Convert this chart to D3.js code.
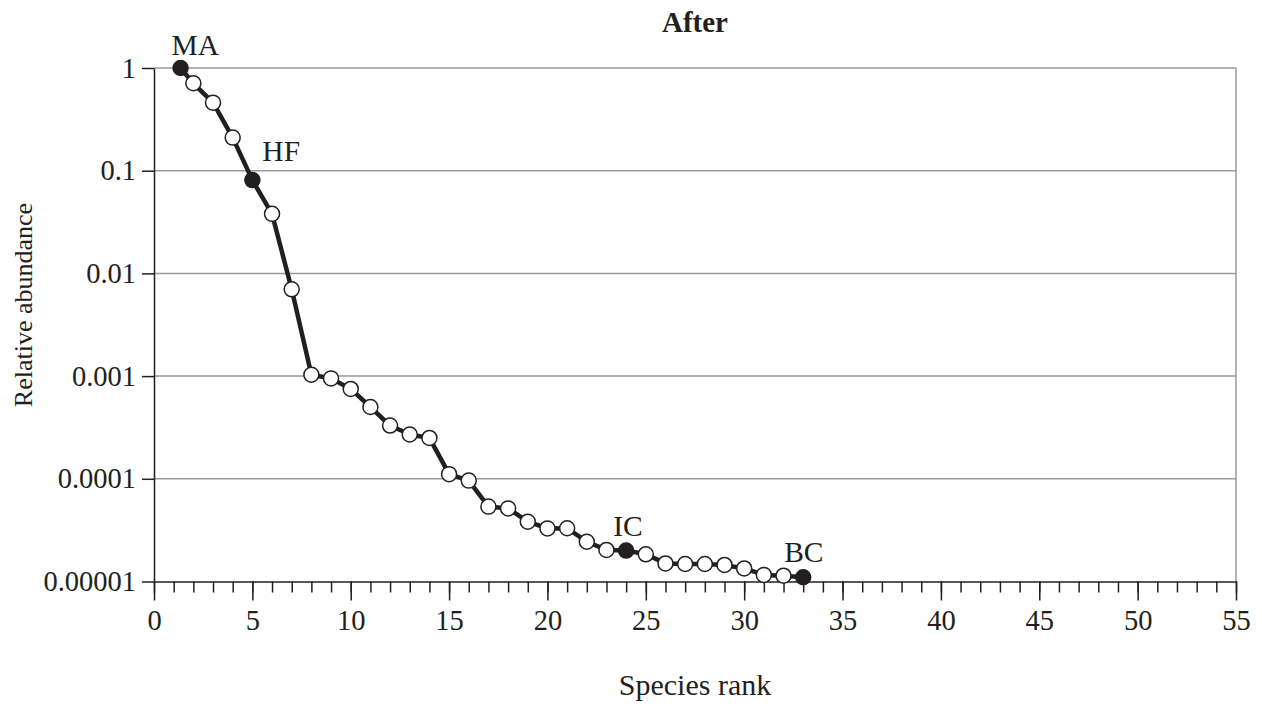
<!DOCTYPE html>
<html>
<head>
<meta charset="utf-8">
<script src="https://cdn.jsdelivr.net/npm/d3@7"></script>
<style>
    body { margin: 0; background: #fff; }
    svg text { font-family: "Liberation Serif", "Times New Roman", serif; fill: #231f20; }
</style>
</head>
<body>
<svg></svg>
<script>
const width = 1262;
const height = 704;

// data
const ranks = [1.35, 2, 3, 4, 5, 6, 7, 8, 9, 10, 11, 12, 13, 14, 15, 16, 17,
    18, 19, 20, 21, 22, 23, 24, 25, 26, 27, 28, 29, 30, 31, 32, 33];
const abundance = [1, 0.71, 0.46, 0.21, 0.081, 0.038, 0.007, 0.00103, 0.00095,
    0.00075, 0.0005, 0.00033, 0.00027, 0.00025, 0.000111, 0.000096, 0.0000536,
    0.0000515, 0.0000382, 0.0000329, 0.000033, 0.0000244, 0.0000203, 0.00002,
    0.0000184, 0.000015, 0.0000148, 0.0000148, 0.0000145, 0.0000134, 0.0000116,
    0.0000114, 0.000011];
// labelled species (index into the arrays above)
const labelNames = ["MA", "HF", "IC", "BC"];
const labelIndex = [0, 4, 23, 32];
const labelOffset = [[-9, -13], [10, -19], [-13, -15], [-19, -15]];

const yTicks = [1, 0.1, 0.01, 0.001, 0.0001, 0.00001];
const yTickLabels = ["1", "0.1", "0.01", "0.001", "0.0001", "0.00001"];
const xMajor = d3.range(0, 56, 5);
const xMinor = d3.range(0, 56, 1);

const margin = { left: 154, right: 26, top: 68, bottom: 122.5 };
const tickFont = 28.5;

let svg = d3.select("svg").attr("width", width).attr("height", height);

let x = d3.scaleLinear().domain([0, 55]).range([margin.left, width - margin.right]);
let y = d3.scaleLog().domain([0.00001, 1]).range([height - margin.bottom, margin.top]);

//сетка
svg.append("g")
    .selectAll("line")
    .data(yTicks.slice(0, -1))
    .join("line")
    .attr("x1", x(0))
    .attr("x2", x(55))
    .attr("y1", (d) => y(d))
    .attr("y2", (d) => y(d))
    .style("stroke", "#999")
    .style("stroke-width", 1.5);
svg.append("line")
    .attr("x1", x(55)).attr("x2", x(55))
    .attr("y1", y(1)).attr("y2", y(0.00001))
    .style("stroke", "#999")
    .style("stroke-width", 1.5);

//ось X
let xMinorAxis = d3.axisBottom(x).tickValues(xMinor).tickSize(11).tickSizeOuter(0).tickFormat("");
let xMajorAxis = d3.axisBottom(x).tickValues(xMajor).tickSize(19).tickSizeOuter(0).tickPadding(9);
svg.append("g")
    .attr("transform", `translate(0, ${y(0.00001)})`)
    .call(xMinorAxis)
    .call((g) => g.select(".domain").remove());
svg.append("g")
    .attr("transform", `translate(0, ${y(0.00001)})`)
    .call(xMajorAxis);

//ось Y
let yAxis = d3.axisLeft(y)
    .tickValues(yTicks)
    .tickSize(12)
    .tickSizeOuter(0)
    .tickPadding(6)
    .tickFormat((d, i) => yTickLabels[i]);
svg.append("g")
    .attr("transform", `translate(${x(0)}, 0)`)
    .call(yAxis);

svg.selectAll(".domain, .tick line")
    .style("stroke", "#231f20")
    .style("stroke-width", 1.5);
svg.selectAll(".tick text")
    .style("font-size", tickFont + "px")
    .style("font-family", '"Liberation Serif", "Times New Roman", serif')
    .attr("fill", "#231f20");

//линия
let line = d3.line()
    .x((d, i) => x(ranks[i]))
    .y((d) => y(d));
svg.append("path")
    .attr("d", line(abundance))
    .attr("fill", "none")
    .style("stroke", "#231f20")
    .style("stroke-width", 4.5)
    .style("stroke-linejoin", "round");

//точки
svg.append("g")
    .selectAll("circle")
    .data(abundance)
    .join("circle")
    .attr("cx", (d, i) => x(ranks[i]))
    .attr("cy", (d) => y(d))
    .attr("r", 7.5)
    .style("fill", (d, i) => (labelIndex.includes(i) ? "#231f20" : "#fff"))
    .style("stroke", "#231f20")
    .style("stroke-width", 1.5);

//подписи видов
svg.append("g")
    .selectAll("text")
    .data(labelNames)
    .join("text")
    .attr("x", (d, i) => x(ranks[labelIndex[i]]) + labelOffset[i][0])
    .attr("y", (d, i) => y(abundance[labelIndex[i]]) + labelOffset[i][1])
    .style("font-size", "29.5px")
    .text((d) => d);

//заголовок и подписи осей
svg.append("text")
    .attr("x", (x(0) + x(55)) / 2)
    .attr("y", 32)
    .attr("text-anchor", "middle")
    .style("font-size", "29px")
    .style("font-weight", "bold")
    .text("After");

svg.append("text")
    .attr("x", (x(0) + x(55)) / 2)
    .attr("y", 695)
    .attr("text-anchor", "middle")
    .style("font-size", "30px")
    .text("Species rank");

svg.append("text")
    .attr("transform", "translate(32, 305) rotate(-90)")
    .attr("text-anchor", "middle")
    .style("font-size", "26px")
    .text("Relative abundance");
</script>
</body>
</html>
